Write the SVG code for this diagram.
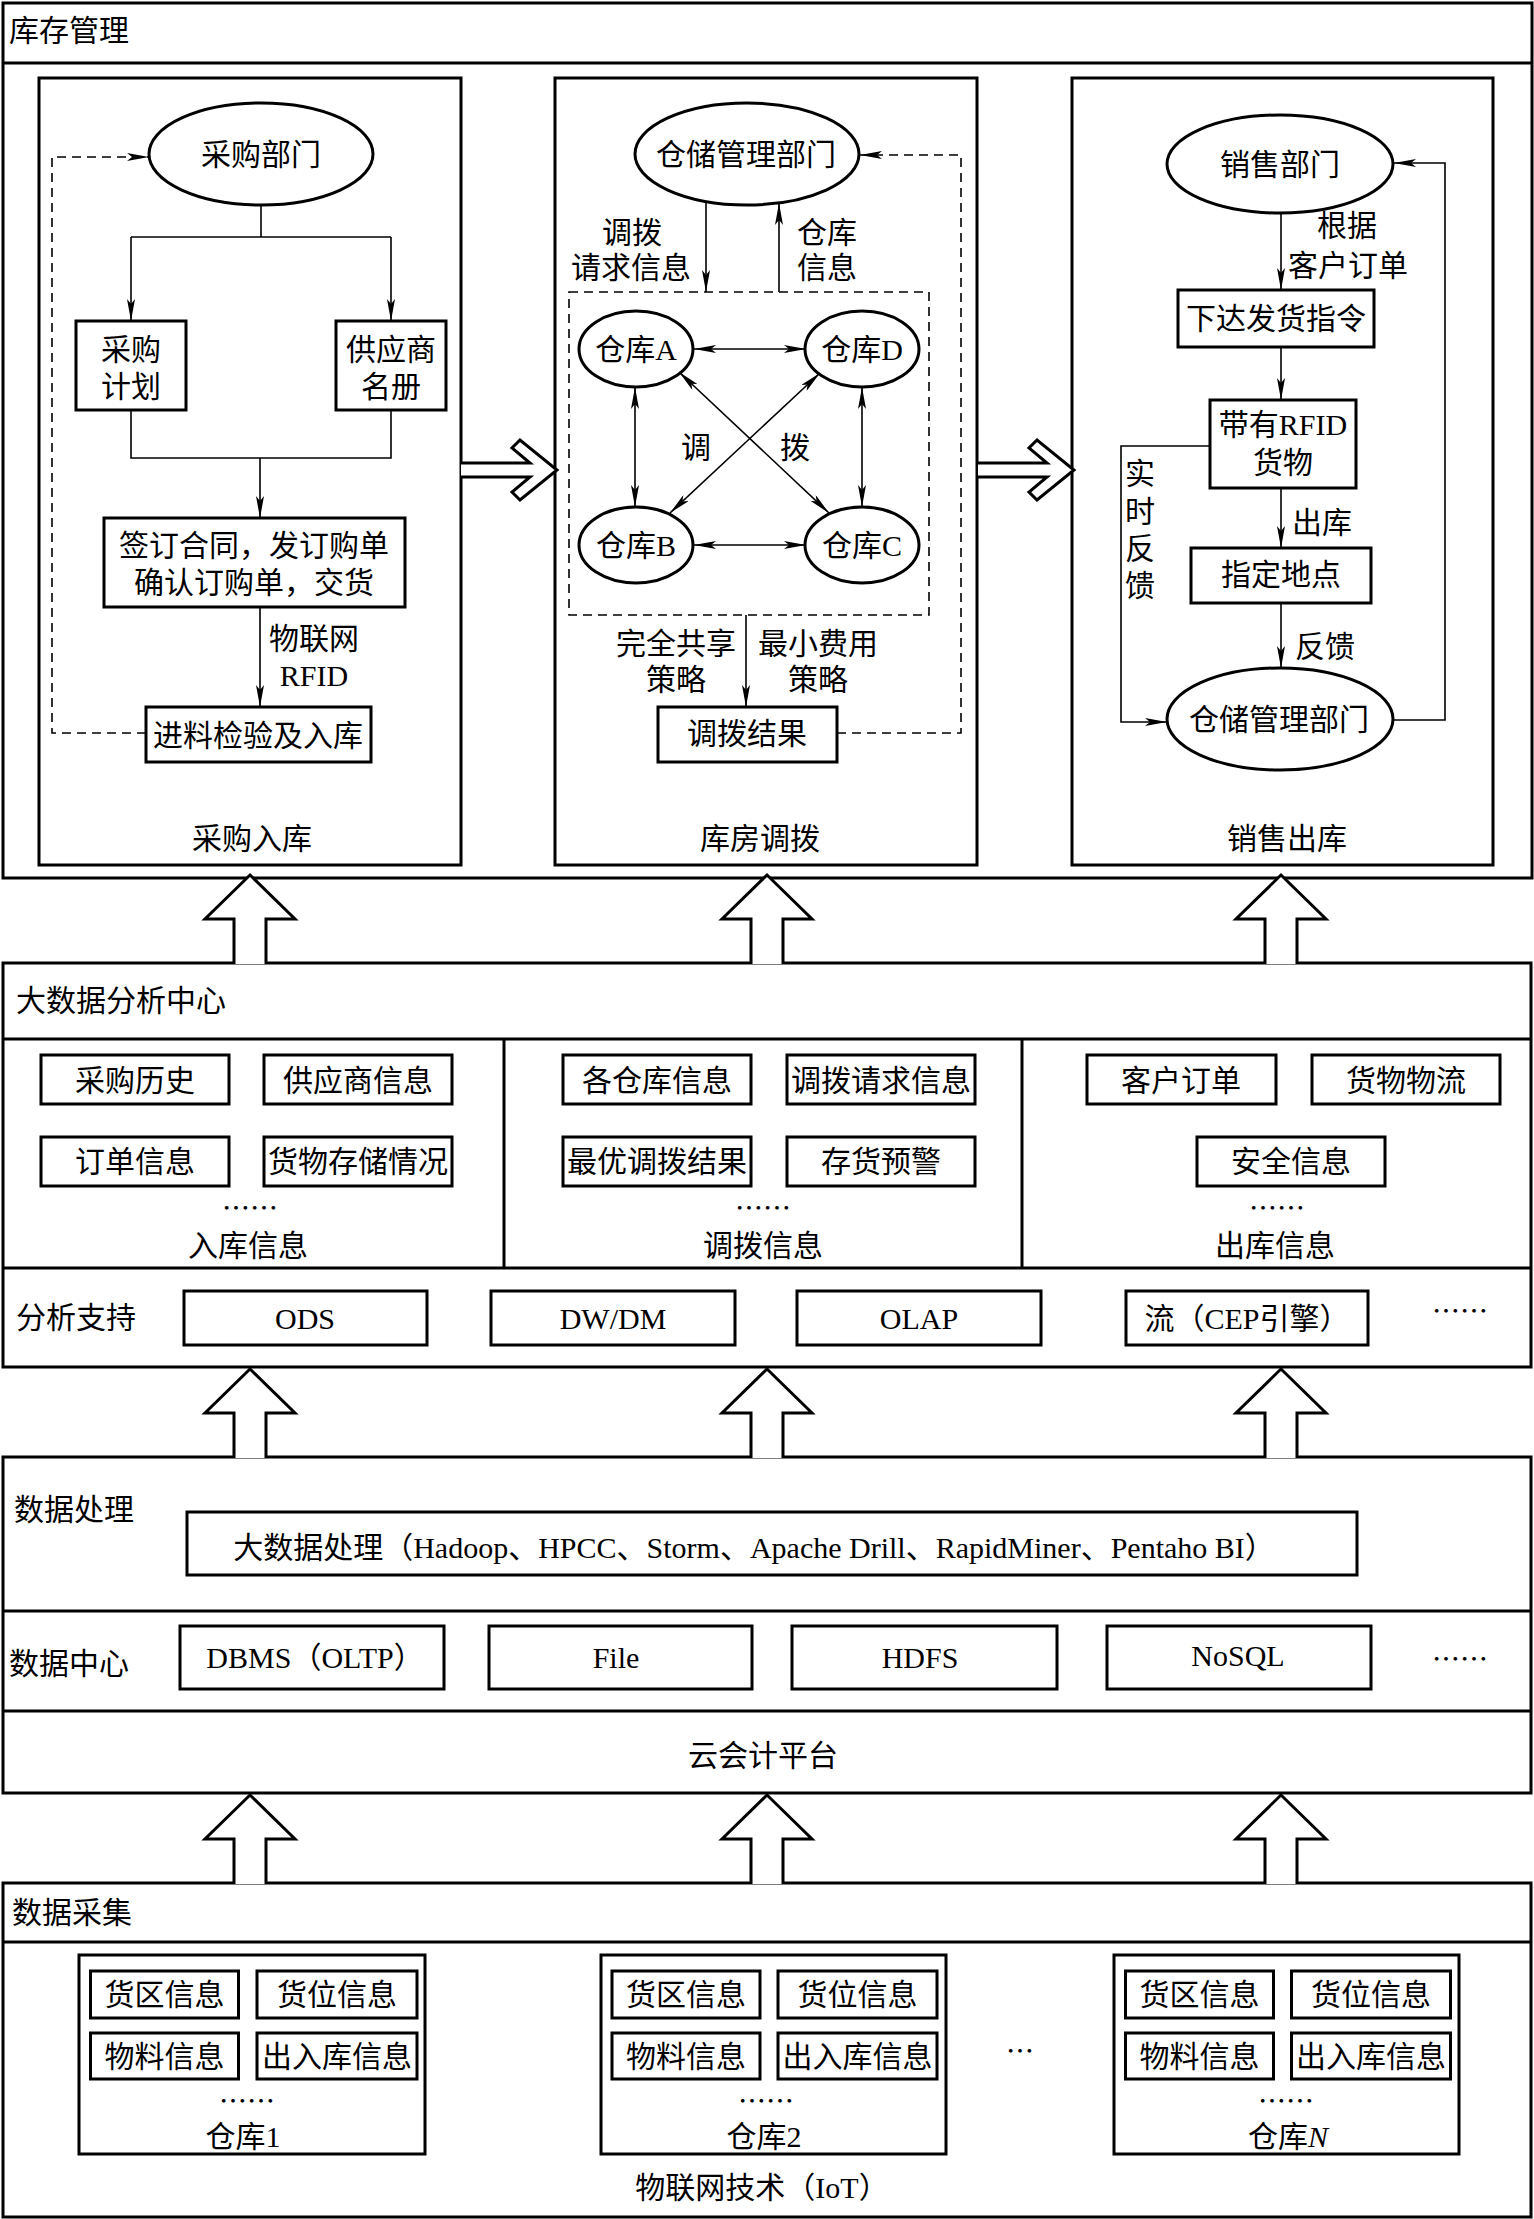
<svg xmlns="http://www.w3.org/2000/svg" width="1534" height="2219" viewBox="0 0 1534 2219">
<style>
.box{fill:#fff;stroke:#000;stroke-width:3}
.frame{fill:#fff;stroke:#000;stroke-width:3}
.sep{fill:none;stroke:#000;stroke-width:3}
.ell{fill:#fff;stroke:#000;stroke-width:3}
.ln{fill:none;stroke:#000;stroke-width:1.6}
.dash{fill:none;stroke:#000;stroke-width:1.6;stroke-dasharray:9 6}
.hollow{fill:#fff;stroke:#000;stroke-width:3;stroke-linejoin:miter}
text{font-family:"Liberation Serif","Noto Sans CJK SC",serif;font-size:30px;fill:#000;dominant-baseline:central}
.c{text-anchor:middle}
.dots{font-family:"Noto Sans CJK SC",sans-serif;font-size:28px}
</style>
<defs>
<marker id="ah" viewBox="0 0 22 8" refX="22" refY="4" markerWidth="22" markerHeight="8" markerUnits="userSpaceOnUse" orient="auto-start-reverse">
<path d="M0,0 L22,4 L0,8 L5,4 z" fill="#000"/>
</marker>
<path id="upArrow" d="M-16,89 V44 H-45 L0,0 L45,44 H16 V89"/>
<path id="rightArrow" d="M0,-7 H69 L51,-22 L59,-30 L96,0 L59,30 L51,22 L69,7 H0"/>
</defs>

<!-- ===== Top frame: 库存管理 ===== -->
<g id="inventory-frame">
<rect class="frame" x="3" y="3" width="1529" height="875"/>
<line class="sep" x1="3" y1="63" x2="1532" y2="63"/>
<text x="9" y="30">库存管理</text>
</g>

<g id="panel-purchase">
<rect class="frame" x="39" y="78" width="422" height="787"/>
<text class="c" x="252" y="838">采购入库</text>
</g>
<g id="panel-transfer">
<rect class="frame" x="555" y="78" width="422" height="787"/>
<text class="c" x="760" y="838">库房调拨</text>
</g>
<g id="panel-sales">
<rect class="frame" x="1072" y="78" width="421" height="787"/>
<text class="c" x="1287" y="838">销售出库</text>
</g>

<!-- Panel 1 nodes -->
<g id="n-purchase-dept"><ellipse class="ell" cx="261" cy="154" rx="112" ry="51"/><text class="c" x="261" y="154">采购部门</text></g>
<g id="n-purchase-plan"><rect class="box" x="76" y="321" width="110" height="89"/><text class="c" x="131" y="349">采购</text><text class="c" x="131" y="386">计划</text></g>
<g id="n-supplier-list"><rect class="box" x="336" y="321" width="110" height="89"/><text class="c" x="391" y="349">供应商</text><text class="c" x="391" y="386">名册</text></g>
<g id="n-contract"><rect class="box" x="104" y="518" width="301" height="89"/><text class="c" x="254" y="545">签订合同，发订购单</text><text class="c" x="254" y="582">确认订购单，交货</text></g>
<g id="n-inspect"><rect class="box" x="146" y="707" width="225" height="55"/><text class="c" x="258" y="735">进料检验及入库</text></g>

<!-- Panel 2 nodes -->
<g id="n-storage-dept-1"><ellipse class="ell" cx="747" cy="154" rx="112" ry="51"/><text class="c" x="746" y="154">仓储管理部门</text></g>
<g id="n-wh-a"><ellipse class="ell" cx="636" cy="349" rx="57" ry="38"/><text class="c" x="636" y="349">仓库A</text></g>
<g id="n-wh-d"><ellipse class="ell" cx="862" cy="349" rx="57" ry="38"/><text class="c" x="862" y="349">仓库D</text></g>
<g id="n-wh-b"><ellipse class="ell" cx="636" cy="545" rx="57" ry="38"/><text class="c" x="636" y="545">仓库B</text></g>
<g id="n-wh-c"><ellipse class="ell" cx="862" cy="545" rx="57" ry="38"/><text class="c" x="862" y="545">仓库C</text></g>
<g id="n-transfer-result"><rect class="box" x="658" y="707" width="179" height="55"/><text class="c" x="747" y="733">调拨结果</text></g>

<!-- Panel 3 nodes -->
<g id="n-sales-dept"><ellipse class="ell" cx="1280" cy="164" rx="113" ry="49"/><text class="c" x="1280" y="164">销售部门</text></g>
<g id="n-ship-order"><rect class="box" x="1178" y="290" width="196" height="57"/><text class="c" x="1276" y="318">下达发货指令</text></g>
<g id="n-rfid-goods"><rect class="box" x="1210" y="400" width="146" height="88"/><text class="c" x="1283" y="424">带有RFID</text><text class="c" x="1283" y="462">货物</text></g>
<g id="n-location"><rect class="box" x="1191" y="548" width="180" height="55"/><text class="c" x="1281" y="574">指定地点</text></g>
<g id="n-storage-dept-2"><ellipse class="ell" cx="1280" cy="719" rx="113" ry="51"/><text class="c" x="1279" y="719">仓储管理部门</text></g>

<!-- ===== 大数据分析中心 ===== -->
<g id="analysis-center">
<rect class="frame" x="3" y="963" width="1528" height="404"/>
<line class="sep" x1="3" y1="1039" x2="1531" y2="1039"/>
<line class="sep" x1="3" y1="1268" x2="1531" y2="1268"/>
<line class="sep" x1="504" y1="1039" x2="504" y2="1268"/>
<line class="sep" x1="1022" y1="1039" x2="1022" y2="1268"/>
<text x="16" y="1000">大数据分析中心</text>
<text class="c dots" x="250" y="1207">……</text>
<text class="c" x="248" y="1245">入库信息</text>
<text class="c dots" x="763" y="1207">……</text>
<text class="c" x="763" y="1245">调拨信息</text>
<text class="c dots" x="1277" y="1207">……</text>
<text class="c" x="1275" y="1245">出库信息</text>
<text x="16" y="1317">分析支持</text>
<text class="c dots" x="1460" y="1310">……</text>
</g>
<g id="a-purchase-history"><rect class="box" x="41" y="1055" width="188" height="49"/><text class="c" x="135" y="1080">采购历史</text></g>
<g id="a-supplier-info"><rect class="box" x="264" y="1055" width="188" height="49"/><text class="c" x="358" y="1080">供应商信息</text></g>
<g id="a-order-info"><rect class="box" x="41" y="1137" width="188" height="49"/><text class="c" x="135" y="1161">订单信息</text></g>
<g id="a-goods-storage"><rect class="box" x="264" y="1137" width="188" height="49"/><text class="c" x="358" y="1161">货物存储情况</text></g>
<g id="a-wh-info"><rect class="box" x="563" y="1055" width="188" height="49"/><text class="c" x="657" y="1080">各仓库信息</text></g>
<g id="a-transfer-req"><rect class="box" x="787" y="1055" width="188" height="49"/><text class="c" x="881" y="1080">调拨请求信息</text></g>
<g id="a-optimal"><rect class="box" x="563" y="1137" width="188" height="49"/><text class="c" x="657" y="1161">最优调拨结果</text></g>
<g id="a-stock-warn"><rect class="box" x="787" y="1137" width="188" height="49"/><text class="c" x="881" y="1161">存货预警</text></g>
<g id="a-cust-order"><rect class="box" x="1087" y="1055" width="189" height="49"/><text class="c" x="1181" y="1080">客户订单</text></g>
<g id="a-logistics"><rect class="box" x="1312" y="1055" width="188" height="49"/><text class="c" x="1406" y="1080">货物物流</text></g>
<g id="a-safety"><rect class="box" x="1197" y="1137" width="188" height="49"/><text class="c" x="1291" y="1161">安全信息</text></g>
<g id="s-ods"><rect class="box" x="184" y="1291" width="243" height="54"/><text class="c" x="305" y="1318">ODS</text></g>
<g id="s-dw"><rect class="box" x="491" y="1291" width="244" height="54"/><text class="c" x="613" y="1318">DW/DM</text></g>
<g id="s-olap"><rect class="box" x="797" y="1291" width="244" height="54"/><text class="c" x="919" y="1318">OLAP</text></g>
<g id="s-cep"><rect class="box" x="1126" y="1291" width="242" height="54"/><text class="c" x="1247" y="1318">流（CEP引擎）</text></g>

<!-- ===== 数据处理 / 数据中心 / 云会计平台 ===== -->
<g id="processing-frame">
<rect class="frame" x="3" y="1457" width="1528" height="336"/>
<line class="sep" x1="3" y1="1611" x2="1531" y2="1611"/>
<line class="sep" x1="3" y1="1711" x2="1531" y2="1711"/>
<text x="14" y="1509">数据处理</text>
<text x="9" y="1663">数据中心</text>
<text class="c dots" x="1460" y="1658">……</text>
<text class="c" x="763" y="1755">云会计平台</text>
</g>
<g id="p-bigdata"><rect class="box" x="187" y="1512" width="1170" height="63"/><text class="c" x="754" y="1547">大数据处理（Hadoop、HPCC、Storm、Apache Drill、RapidMiner、Pentaho BI）</text></g>
<g id="d-dbms"><rect class="box" x="180" y="1626" width="264" height="63"/><text class="c" x="315" y="1657">DBMS（OLTP）</text></g>
<g id="d-file"><rect class="box" x="489" y="1626" width="263" height="63"/><text class="c" x="616" y="1657">File</text></g>
<g id="d-hdfs"><rect class="box" x="792" y="1626" width="265" height="63"/><text class="c" x="920" y="1657">HDFS</text></g>
<g id="d-nosql"><rect class="box" x="1107" y="1626" width="264" height="63"/><text class="c" x="1238" y="1655">NoSQL</text></g>

<!-- ===== 数据采集 ===== -->
<g id="collection-frame">
<rect class="frame" x="3" y="1883" width="1528" height="334"/>
<line class="sep" x1="3" y1="1942" x2="1531" y2="1942"/>
<text x="12" y="1912">数据采集</text>
<text class="c dots" x="1020" y="2050">…</text>
<text class="c" x="762" y="2187">物联网技术（IoT）</text>
</g>
<g id="wh-1">
<rect class="box" x="79" y="1955" width="346" height="199"/>
<rect class="box" x="90.5" y="1971" width="148" height="47"/><text class="c" x="164.5" y="1994">货区信息</text>
<rect class="box" x="257" y="1971" width="160" height="47"/><text class="c" x="337" y="1994">货位信息</text>
<rect class="box" x="90.5" y="2033" width="148" height="46"/><text class="c" x="164.5" y="2056">物料信息</text>
<rect class="box" x="257" y="2033" width="160" height="46"/><text class="c" x="337" y="2056">出入库信息</text>
<text class="c dots" x="247" y="2100">……</text>
<text class="c" x="243" y="2136">仓库1</text>
</g>
<g id="wh-2">
<rect class="box" x="601" y="1955" width="345" height="199"/>
<rect class="box" x="612" y="1971" width="148" height="47"/><text class="c" x="686" y="1994">货区信息</text>
<rect class="box" x="778" y="1971" width="159" height="47"/><text class="c" x="857.5" y="1994">货位信息</text>
<rect class="box" x="612" y="2033" width="148" height="46"/><text class="c" x="686" y="2056">物料信息</text>
<rect class="box" x="778" y="2033" width="159" height="46"/><text class="c" x="857.5" y="2056">出入库信息</text>
<text class="c dots" x="766" y="2100">……</text>
<text class="c" x="764" y="2136">仓库2</text>
</g>
<g id="wh-n">
<rect class="box" x="1114" y="1955" width="345" height="199"/>
<rect class="box" x="1125.5" y="1971" width="148" height="47"/><text class="c" x="1199.5" y="1994">货区信息</text>
<rect class="box" x="1291.5" y="1971" width="159" height="47"/><text class="c" x="1371" y="1994">货位信息</text>
<rect class="box" x="1125.5" y="2033" width="148" height="46"/><text class="c" x="1199.5" y="2056">物料信息</text>
<rect class="box" x="1291.5" y="2033" width="159" height="46"/><text class="c" x="1371" y="2056">出入库信息</text>
<text class="c dots" x="1286" y="2100">……</text>
<text class="c" x="1288" y="2136">仓库<tspan font-style="italic">N</tspan></text>
</g>

<!-- ===== Connectors ===== -->
<g id="connectors">
<path class="ln" d="M261,205 V237"/>
<path class="ln" d="M131,237 H391"/>
<path class="ln" d="M131,237 V321" marker-end="url(#ah)"/>
<path class="ln" d="M391,237 V321" marker-end="url(#ah)"/>
<path class="ln" d="M131,410 V458 H391 V410"/>
<path class="ln" d="M260,458 V518" marker-end="url(#ah)"/>
<path class="ln" d="M260,607 V707" marker-end="url(#ah)"/>
<path class="dash" d="M146,733 H52 V157 H149" marker-end="url(#ah)"/>
<path class="ln" d="M706,202 V292" marker-end="url(#ah)"/>
<path class="ln" d="M779,292 V203" marker-end="url(#ah)"/>
<rect class="dash" x="569" y="292" width="360" height="323"/>
<path class="ln" d="M694,349 H806" marker-start="url(#ah)" marker-end="url(#ah)"/>
<path class="ln" d="M694,545 H806" marker-start="url(#ah)" marker-end="url(#ah)"/>
<path class="ln" d="M635,387 V507" marker-start="url(#ah)" marker-end="url(#ah)"/>
<path class="ln" d="M862,387 V507" marker-start="url(#ah)" marker-end="url(#ah)"/>
<path class="ln" d="M679,372 L829,513" marker-start="url(#ah)" marker-end="url(#ah)"/>
<path class="ln" d="M820,373 L670,513" marker-start="url(#ah)" marker-end="url(#ah)"/>
<path class="ln" d="M746,615 V707" marker-end="url(#ah)"/>
<path class="dash" d="M837,733 H961 V155 H860" marker-end="url(#ah)"/>
<path class="ln" d="M1281,213 V290" marker-end="url(#ah)"/>
<path class="ln" d="M1281,347 V400" marker-end="url(#ah)"/>
<path class="ln" d="M1281,488 V548" marker-end="url(#ah)"/>
<path class="ln" d="M1281,603 V668" marker-end="url(#ah)"/>
<path class="ln" d="M1210,446 H1121 V722 H1167" marker-end="url(#ah)"/>
<path class="ln" d="M1393,720 H1445 V163 H1394" marker-end="url(#ah)"/>
<use href="#rightArrow" class="hollow" x="461" y="470"/>
<use href="#rightArrow" class="hollow" x="978" y="470"/>
<use href="#upArrow" class="hollow" x="250" y="875"/>
<use href="#upArrow" class="hollow" x="767" y="875"/>
<use href="#upArrow" class="hollow" x="1281" y="875"/>
<use href="#upArrow" class="hollow" x="250" y="1369"/>
<use href="#upArrow" class="hollow" x="767" y="1369"/>
<use href="#upArrow" class="hollow" x="1281" y="1369"/>
<use href="#upArrow" class="hollow" x="250" y="1795"/>
<use href="#upArrow" class="hollow" x="767" y="1795"/>
<use href="#upArrow" class="hollow" x="1281" y="1795"/>
</g>

<g id="labels">
<text class="c" x="314" y="638">物联网</text>
<text class="c" x="314" y="675">RFID</text>
<text class="c" x="632" y="232">调拨</text>
<text class="c" x="631" y="267">请求信息</text>
<text class="c" x="827" y="232">仓库</text>
<text class="c" x="827" y="267">信息</text>
<text class="c" x="696" y="447">调</text>
<text class="c" x="795" y="447">拨</text>
<text class="c" x="676" y="643">完全共享</text>
<text class="c" x="676" y="679">策略</text>
<text class="c" x="818" y="643">最小费用</text>
<text class="c" x="818" y="679">策略</text>
<text class="c" x="1347" y="225">根据</text>
<text class="c" x="1348" y="265">客户订单</text>
<text class="c" x="1140" y="473">实</text>
<text class="c" x="1140" y="511">时</text>
<text class="c" x="1140" y="548">反</text>
<text class="c" x="1140" y="585">馈</text>
<text class="c" x="1322" y="522">出库</text>
<text class="c" x="1325" y="646">反馈</text>
</g>
</svg>
